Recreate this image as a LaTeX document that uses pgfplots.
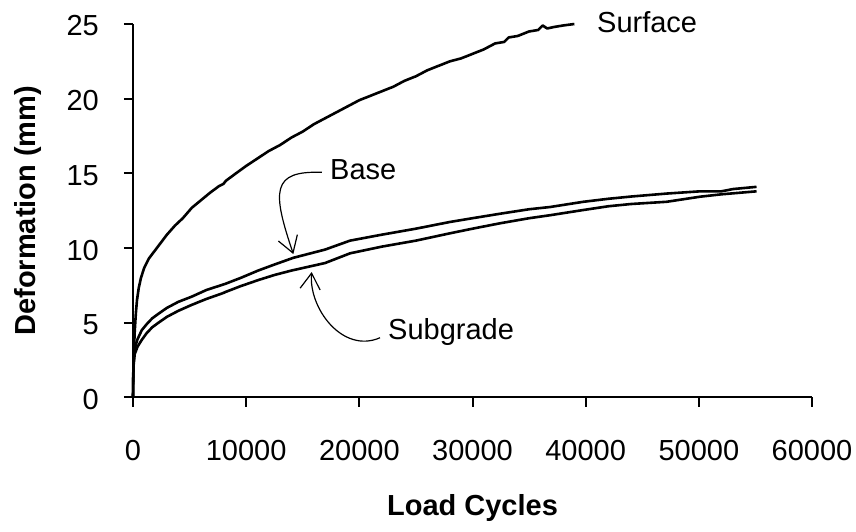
\documentclass[border=0pt]{standalone}
\usepackage{pgfplots}
\pgfplotsset{compat=1.18}
\usepackage{fontspec}
\setmainfont{Liberation Sans}
\usetikzlibrary{arrows.meta}

\newcommand\lab{\fontsize{29}{34}\selectfont}

% Permanent deformation of each pavement layer under repeated loading
\pgfplotstableread{
x y
0 0
30 1.5
80 3.0
150 4.4
250 5.6
350 6.5
500 7.3
700 8.0
1000 8.7
1400 9.3
1900 9.8
2400 10.3
3000 10.9
3700 11.5
4400 12.0
5200 12.7
6000 13.2
6800 13.7
7600 14.15
8000 14.3
8200 14.5
9000 14.95
10000 15.5
11000 16.0
12000 16.5
13000 16.9
14000 17.4
15000 17.8
16000 18.3
17000 18.7
18000 19.1
19000 19.5
20000 19.9
21000 20.2
22000 20.5
23000 20.8
24000 21.2
25000 21.5
26000 21.9
27000 22.2
28000 22.5
29000 22.7
30000 23.0
31000 23.3
32000 23.7
32800 23.8
33200 24.1
34000 24.2
35000 24.5
35800 24.6
36200 24.9
36600 24.7
37200 24.8
38000 24.9
39000 25.0
}\surface

\pgfplotstableread{
x y
0 0
20 1.5
60 2.6
150 3.3
400 3.9
770 4.5
1200 4.9
1700 5.3
2240 5.6
3000 6.0
4000 6.4
5190 6.75
6500 7.2
8130 7.6
9500 8.0
11070 8.5
12500 8.9
14170 9.35
16970 9.9
19180 10.5
22000 10.9
25000 11.3
28010 11.75
30000 12.0
32430 12.3
35000 12.6
36850 12.75
39800 13.1
42000 13.3
44000 13.45
47160 13.65
50110 13.8
52000 13.8
53000 13.95
55100 14.1
}\base

\pgfplotstableread{
x y
0 0
20 1.2
60 2.2
150 2.9
400 3.4
770 3.85
1200 4.3
1700 4.7
2240 5.0
3000 5.4
4000 5.8
5190 6.2
6500 6.6
8000 7.0
8130 7.05
9500 7.45
11070 7.86
12500 8.2
14020 8.5
15790 8.8
16970 9.0
19180 9.65
22000 10.1
25000 10.5
28010 10.99
30000 11.3
32430 11.66
35000 12.0
36850 12.2
39800 12.55
42000 12.8
44000 12.95
47160 13.1
50110 13.44
52000 13.6
55100 13.8
}\subgrade

\begin{document}
\begin{tikzpicture}
\path[use as bounding box] (0pt,0pt) rectangle (856pt,532pt);
\begin{axis}[
  at={(133pt,134.5pt)}, anchor=south west,
  scale only axis, width=679pt, height=373.5pt,
  xmin=0, xmax=60000, ymin=0, ymax=25,
  axis lines*=left,
  axis line style={line width=2pt, black},
  tick style={line width=2pt, black},
  tick align=outside, major tick length=9pt,
  scaled x ticks=false, scaled y ticks=false,
  xtick={0,10000,20000,30000,40000,50000,60000},
  xticklabels={0,10000,20000,30000,40000,50000,60000},
  ytick={0,5,10,15,20,25},
  /pgf/number format/assume math mode=true,
  ticklabel style={font=\lab, inner sep=0pt},
  xticklabel style={anchor=base, yshift=-54pt},
  yticklabel style={anchor=east, xshift=-25pt, yshift=-2pt},
  xlabel={\textbf{Load Cycles}},
  ylabel={\textbf{Deformation (mm)}},
  label style={font=\lab},
  xlabel style={at={(axis description cs:0.5,-0.295)}, anchor=center},
  ylabel style={at={(axis description cs:-0.155,0.5)}, anchor=center},
  clip=false,
  every axis plot post/.append style={black, line width=2.6pt, line join=round, mark=none},
]
\addplot table[x=x, y=y] {\surface};
\addplot table[x=x, y=y] {\base};
\addplot table[x=x, y=y] {\subgrade};

\node[font=\lab, anchor=base west, inner sep=0pt] at (axis cs:41000,24.4) {Surface};
\node[font=\lab, anchor=base west, inner sep=0pt] at (axis cs:17410,14.56) {Base};
\node[font=\lab, anchor=base west, inner sep=0pt] at (axis cs:22530,3.85) {Subgrade};

\draw[line width=1.2pt, -{Straight Barb[length=16pt, width=20pt]}]
  (axis cs:16700,15.07) .. controls (axis cs:12200,15.2) and (axis cs:12300,13.8) .. (axis cs:14170,9.6);
\draw[line width=1.2pt, -{Straight Barb[length=16pt, width=20pt]}]
  (axis cs:21830,4.0) .. controls (axis cs:18500,2.9) and (axis cs:15500,6.0) .. (axis cs:15790,8.4);
\end{axis}
\end{tikzpicture}
\end{document}
